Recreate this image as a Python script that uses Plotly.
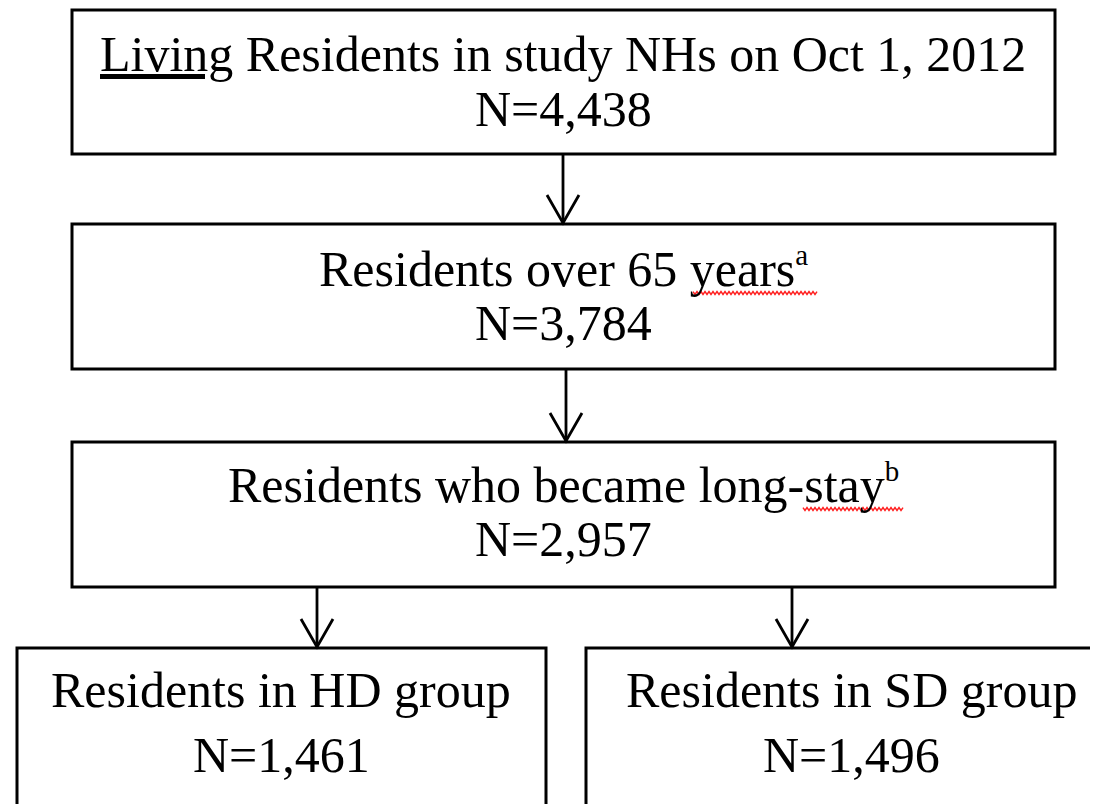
import numpy as np
import plotly.graph_objects as go

# ---- data ----
stage_labels = [
    "<u>Living</u> Residents in study NHs on Oct 1, 2012",
    "Residents over 65 years<sup><span style='font-size:29px'>a</span></sup>",
    "Residents who became long-stay<sup><span style='font-size:29px'>b</span></sup>",
    "Residents in HD group",
    "Residents in SD group",
]
stage_counts = [4438, 3784, 2957, 1461, 1496]
# flow links: (from stage, to stage)
links = [(0, 1), (1, 2), (2, 3), (2, 4)]

# ---- layout geometry (screen pixel space) ----
W, H = 1098, 804
OFF = 8  # default page body margin
boxes = [
    (72, 10, 1055, 154),
    (72, 224, 1055, 369),
    (72, 442, 1055, 587),
    (17, 648, 546, 900),
    (586, 648, 1300, 900),
]
text_cx = [563, 563, 563, 281, 851]
line1_base = [72, 287, 503, 708, 708]
line2_base = [127, 341, 557, 773, 773]
arrow_x = [563, 566, 317, 792]
FONT = "Liberation Serif, Times New Roman, serif"
FS = 50

fig = go.Figure()
shapes = []
annotations = []

for i, (x0, y0, x1, y1) in enumerate(boxes):
    if y1 <= H:
        shapes.append(dict(type="rect", xref="x", yref="y", x0=x0, y0=y0, x1=x1, y1=y1,
                           line=dict(color="black", width=3), fillcolor="white", layer="below"))
    else:
        # box runs off the page: draw only its visible edges
        if x1 <= W:
            p = f"M {x0},{y1} L {x0},{y0} L {x1},{y0} L {x1},{y1}"
        else:
            p = f"M {x0},{y1} L {x0},{y0} L {x1},{y0}"
        shapes.append(dict(type="path", xref="x", yref="y", path=p,
                           line=dict(color="black", width=3), layer="below"))
    cx = text_cx[i]
    annotations.append(dict(x=cx, y=line1_base[i], xref="x", yref="y", text=stage_labels[i],
                            showarrow=False, xanchor="center", yanchor="bottom", yshift=-12,
                            font=dict(family=FONT, size=FS, color="black")))
    annotations.append(dict(x=cx, y=line2_base[i], xref="x", yref="y",
                            text=f"N={stage_counts[i]:,}",
                            showarrow=False, xanchor="center", yanchor="bottom", yshift=-12,
                            font=dict(family=FONT, size=FS, color="black")))

for k, (a, b) in enumerate(links):
    x = arrow_x[k]
    ys = boxes[a][3] + 1
    ye = boxes[b][1] - 1
    shapes.append(dict(type="line", xref="x", yref="y", x0=x, y0=ys, x1=x, y1=ye,
                       line=dict(color="black", width=2.8)))
    shapes.append(dict(type="path", xref="x", yref="y",
                       path=f"M {x-16},{ye-28} L {x},{ye} L {x+16},{ye-28}",
                       line=dict(color="black", width=2.8)))

# spell-check squiggles under "years" and "stay"
def squiggle(xa, xb, y, period=4.0, amp=1.4):
    xs = np.arange(xa, xb + 0.01, period / 2)
    pts = [f"{xx:.1f},{y + (amp if j % 2 else -amp):.1f}" for j, xx in enumerate(xs)]
    return "M " + " L ".join(pts)

for (xa, xb, y) in [(693, 817, 293), (803, 903, 509)]:
    shapes.append(dict(type="path", xref="x", yref="y", path=squiggle(xa, xb, y),
                       line=dict(color="#ff2020", width=1.5)))

fig.update_layout(
    width=W - OFF, height=H - OFF,
    margin=dict(l=0, r=0, t=0, b=0),
    paper_bgcolor="white", plot_bgcolor="white",
    xaxis=dict(range=[OFF, W], visible=False, fixedrange=True),
    yaxis=dict(range=[H, OFF], visible=False, fixedrange=True),
    shapes=shapes, annotations=annotations, showlegend=False,
)
fig.write_html("out.html")
